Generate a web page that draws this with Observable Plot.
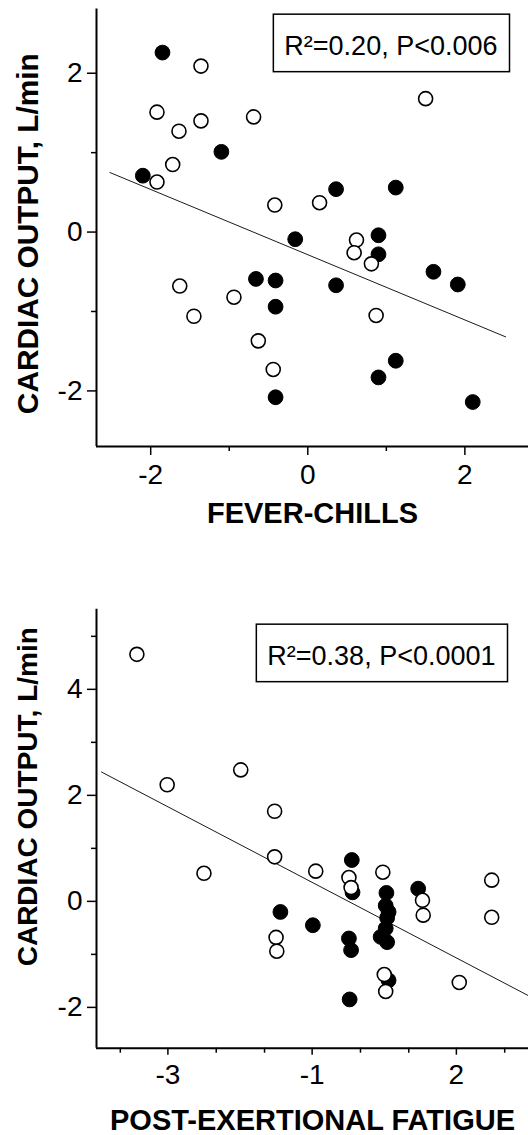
<!DOCTYPE html>
<html><head><meta charset="utf-8">
<script src="https://cdn.jsdelivr.net/npm/d3@7"></script>
<script src="https://cdn.jsdelivr.net/npm/@observablehq/plot@0.6"></script>
<style>
html,body{margin:0;padding:0;background:#fff;}
#chart{width:528px;}
#chart svg{display:block;}
</style></head><body><div id="chart"></div>
<script>
// ---------- Panel 1: FEVER-CHILLS ----------
const feverOpenX   = [-1.36,-1.92,-1.64,-1.36,-0.69,1.50,-1.72,-1.92,-0.42,0.15,0.62,0.59,0.81,-1.63,-0.94,-1.45,0.87,-0.63,-0.44];
const feverOpenY   = [2.09,1.51,1.27,1.40,1.45,1.68,0.85,0.63,0.34,0.37,-0.10,-0.26,-0.40,-0.68,-0.82,-1.06,-1.05,-1.37,-1.73];
const feverFilledX = [-1.85,-1.10,-2.10,0.36,1.12,-0.16,0.90,0.90,1.60,1.91,-0.66,-0.41,0.36,-0.41,1.12,0.90,-0.41,2.10];
const feverFilledY = [2.26,1.01,0.71,0.54,0.56,-0.09,-0.04,-0.28,-0.50,-0.66,-0.59,-0.61,-0.67,-0.94,-1.62,-1.83,-2.08,-2.14];
const feverFitX = [-2.52, 2.52];
const feverFitY = [0.75, -1.32];
const feverXTicks = [-2, 0, 2];
const feverXTickLabels = ["-2", "0", "2"];
const feverXMinor = [-1, 1];
const feverYTicks = [-2, 0, 2];
const feverYTickLabels = ["-2", "0", "2"];
const feverYMinor = [-1, 1];
const feverStat = "R²=0.20, P<0.006";

// ---------- Panel 2: POST-EXERTIONAL FATIGUE ----------
const fatigueOpenX   = [-3.43,-3.01,-1.99,-1.52,-1.52,-2.50,-0.95,-0.49,-0.46,-0.02,0.53,0.54,-1.50,-1.49,1.49,1.49,1.04,0.00,0.02];
const fatigueOpenY   = [4.66,2.20,2.48,1.70,0.84,0.53,0.57,0.45,0.26,0.55,0.02,-0.26,-0.68,-0.94,0.40,-0.30,-1.53,-1.38,-1.70];
const fatigueFilledX = [-0.45,-0.44,0.03,0.02,0.06,0.04,0.02,-0.05,0.04,0.47,-0.49,-0.46,0.06,-0.48,-1.44,-0.99];
const fatigueFilledY = [0.78,0.17,0.16,-0.08,-0.20,-0.31,-0.51,-0.67,-0.77,0.24,-0.70,-0.92,-1.49,-1.85,-0.20,-0.45];
const fatigueFitX = [-3.92, 2.0];
const fatigueFitY = [2.44, -1.78];
const fatigueXTicks = [-3, -1, 1];
const fatigueXTickLabels = ["-3", "-1", "2"];
const fatigueXMinor = [-3.66, -2.33, -1.66, -0.33, 0.34, 1.67];
const fatigueYTicks = [-2, 0, 2, 4];
const fatigueYTickLabels = ["-2", "0", "2", "4"];
const fatigueYMinor = [-1, 1, 3, 5];
const fatigueStat = "R²=0.38, P<0.0001";

const yTitle = "CARDIAC OUTPUT, L/min";
const FONT = "'Liberation Sans', Arial, Helvetica, sans-serif";
const W = 528, ML = 96;

function pts(xs, ys) { return xs.map((x, i) => ({x, y: ys[i]})); }

function panel(cfg) {
  const frameH = cfg.height - cfg.mt - cfg.mb;
  const frameW = W - ML;
  const xMap = new Map(cfg.xTicks.map((v, i) => [v, cfg.xLabels[i]]));
  const yMap = new Map(cfg.yTicks.map((v, i) => [v, cfg.yLabels[i]]));
  const svg = Plot.plot({
    width: W, height: cfg.height,
    marginTop: cfg.mt, marginBottom: cfg.mb, marginLeft: ML, marginRight: 0,
    style: {fontFamily: FONT, background: "white", color: "black", overflow: "visible"},
    x: {domain: cfg.xDomain, axis: null},
    y: {domain: cfg.yDomain, axis: null},
    marks: [
      // x ticks (outward, below the axis)
      Plot.tickX(cfg.xTicks, {x: d => d, insetTop: frameH, insetBottom: -cfg.xMajorSize, stroke: "black", strokeWidth: 1.5}),
      Plot.tickX(cfg.xMinor, {x: d => d, insetTop: frameH, insetBottom: -5, stroke: "black", strokeWidth: 1.5}),
      Plot.text(cfg.xTicks, {x: d => d, text: d => xMap.get(d), frameAnchor: "bottom", lineAnchor: "top", dy: cfg.xMajorSize + cfg.xPad, fontSize: 28, fill: "black"}),
      // y ticks (outward, left of the axis)
      Plot.tickY(cfg.yTicks, {y: d => d, insetLeft: -9, insetRight: frameW, stroke: "black", strokeWidth: 1.5}),
      Plot.tickY(cfg.yMinor, {y: d => d, insetLeft: -5, insetRight: frameW, stroke: "black", strokeWidth: 1.5}),
      Plot.text(cfg.yTicks, {y: d => d, text: d => yMap.get(d), frameAnchor: "left", textAnchor: "end", dx: -14, fontSize: 28, fill: "black"}),
      // axis lines
      Plot.ruleX([cfg.xDomain[0]], {stroke: "black", strokeWidth: 2}),
      Plot.ruleY([cfg.yDomain[0]], {stroke: "black", strokeWidth: 2}),
      // regression line and points
      Plot.line(pts(cfg.fitX, cfg.fitY), {x: "x", y: "y", stroke: "black", strokeWidth: 0.9}),
      Plot.dot(pts(cfg.filledX, cfg.filledY), {x: "x", y: "y", r: 7.4, fill: "black", stroke: "black", strokeWidth: 1}),
      Plot.dot(pts(cfg.openX, cfg.openY), {x: "x", y: "y", r: 7, fill: "white", stroke: "black", strokeWidth: 1.6}),
      // statistic annotation
      Plot.text([cfg.stat], {text: d => d, frameAnchor: "top-right", textAnchor: "end", lineAnchor: "top", dx: cfg.statDx, dy: cfg.statDy, fontSize: 27, fill: "black"}),
      // axis titles
      Plot.text([cfg.xTitle], {text: d => d, frameAnchor: "bottom", textAnchor: "middle", lineAnchor: "top", dy: cfg.xTitleDy, fontSize: 29, fontWeight: "bold", fill: "black"}),
      Plot.text([yTitle], {text: d => d, frameAnchor: "left", textAnchor: "middle", lineAnchor: "top", rotate: -90, dx: cfg.yTitleDx, dy: cfg.yTitleDy, fontSize: cfg.yTitleSize, fontWeight: "bold", fill: "black"})
    ]
  });
  document.getElementById("chart").appendChild(svg);
  // box around the statistics annotation
  const t = [...svg.querySelectorAll("text")].find(e => e.textContent === cfg.stat);
  if (t) {
    const b = t.getBBox();
    const r = document.createElementNS("http://www.w3.org/2000/svg", "rect");
    r.setAttribute("x", b.x - 11);
    r.setAttribute("y", b.y - 16.5);
    r.setAttribute("width", b.width + 23);
    r.setAttribute("height", b.height + 27.5);
    r.setAttribute("fill", "white");
    r.setAttribute("stroke", "black");
    r.setAttribute("stroke-width", 1.5);
    const tr = t.getAttribute("transform");
    if (tr) r.setAttribute("transform", tr);
    t.parentNode.insertBefore(r, t);
  }
}

panel({
  height: 540, mt: 8.4, mb: 94,
  xDomain: [-2.69, 2.81], yDomain: [-2.70, 2.81],
  xTicks: feverXTicks, xLabels: feverXTickLabels, xMinor: feverXMinor, xMajorSize: 9, xPad: 9,
  yTicks: feverYTicks, yLabels: feverYTickLabels, yMinor: feverYMinor,
  openX: feverOpenX, openY: feverOpenY, filledX: feverFilledX, filledY: feverFilledY,
  fitX: feverFitX, fitY: feverFitY,
  stat: feverStat, statDx: -31, statDy: 26.6,
  xTitle: "FEVER-CHILLS", xTitleDy: 56,
  yTitleDx: -80, yTitleDy: 6, yTitleSize: 29.8
});

panel({
  height: 595, mt: 68.8, mb: 87.3,
  xDomain: [-3.99, 2.0], yDomain: [-2.77, 5.51],
  xTicks: fatigueXTicks, xLabels: fatigueXTickLabels, xMinor: fatigueXMinor, xMajorSize: 7, xPad: 9,
  yTicks: fatigueYTicks, yLabels: fatigueYTickLabels, yMinor: fatigueYMinor,
  openX: fatigueOpenX, openY: fatigueOpenY, filledX: fatigueFilledX, filledY: fatigueFilledY,
  fitX: fatigueFitX, fitY: fatigueFitY,
  stat: fatigueStat, statDx: -33, statDy: 36.2,
  xTitle: "POST-EXERTIONAL FATIGUE", xTitleDy: 61,
  yTitleDx: -79, yTitleDy: -32, yTitleSize: 28
});
</script>
</body></html>
